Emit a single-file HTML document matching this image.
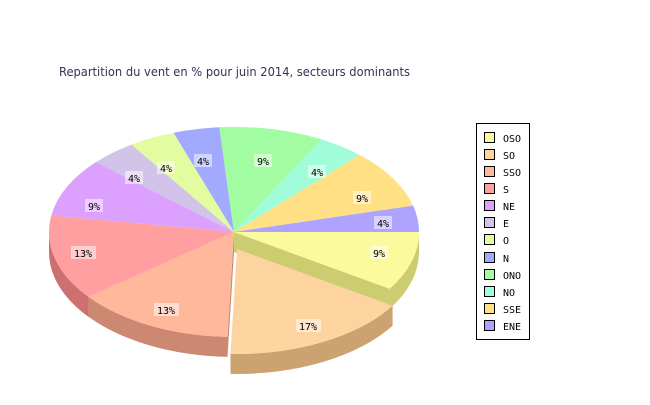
<!DOCTYPE html>
<html><head><meta charset="utf-8"><style>
body{margin:0;background:#fff;width:650px;height:400px;overflow:hidden}
</style></head><body>
<svg width="650" height="400" xmlns="http://www.w3.org/2000/svg">
<text x="59" y="76" font-family="DejaVu Sans, Liberation Sans, sans-serif" font-size="12" textLength="351" lengthAdjust="spacingAndGlyphs" fill="#333355">Repartition du vent en % pour juin 2014, secteurs dominants</text>
<!-- walls -->
<path d="M419,232 A185,105 0 0 1 389.6,288.8 L389.6,308.8 A185,105 0 0 0 419,252 Z" fill="#cccc70"/>
<path d="M234,232 L389.6,288.8 L389.6,308.8 L234,252 Z" fill="#cccc70"/>
<path d="M227.5,336.9 A185,105 0 0 1 88.6,296.9 L88.6,316.9 A185,105 0 0 0 227.5,356.9 Z" fill="#cc8870"/>
<path d="M234,232 L227.5,336.9 L227.5,356.9 L234,252 Z" fill="#cc8870"/>
<path d="M88.6,296.9 A185,105 0 0 1 49,232 L49,252 A185,105 0 0 0 88.6,316.9 Z" fill="#cc7070"/>
<!-- tops -->
<path d="M234,232 L419,232 A185,105 0 0 1 389.6,288.8 Z" fill="#fbfb9e"/>
<path d="M234,232 L227.5,336.9 A185,105 0 0 1 88.6,296.9 Z" fill="#ffb89c"/>
<path d="M234,232 L88.6,296.9 A185,105 0 0 1 51.3,215.4 Z" fill="#ff9f9f"/>
<path d="M234,232 L51.3,215.4 A185,105 0 0 1 96.1,162 Z" fill="#dca0ff"/>
<path d="M234,232 L96.1,162 A185,105 0 0 1 131.5,144.6 Z" fill="#d2c3e8"/>
<path d="M234,232 L131.5,144.6 A185,105 0 0 1 173.5,132.8 Z" fill="#e3fca0"/>
<path d="M234,232 L173.5,132.8 A185,105 0 0 1 219.3,127.3 Z" fill="#a1aaff"/>
<path d="M234,232 L219.3,127.3 A185,105 0 0 1 321.4,139.4 Z" fill="#a2fca2"/>
<path d="M234,232 L321.4,139.4 A185,105 0 0 1 359.5,154.9 Z" fill="#a0fcd9"/>
<path d="M234,232 L359.5,154.9 A185,105 0 0 1 413.1,205.6 Z" fill="#ffe084"/>
<path d="M234,232 L413.1,205.6 A185,105 0 0 1 419,232 Z" fill="#aea4ff"/>
<!-- exploded SO -->
<path d="M392.6,305.8 A185,105 0 0 1 230.5,353.9 L230.5,373.9 A185,105 0 0 0 392.6,325.8 Z" fill="#cca270"/>
<path d="M237,249 L392.6,305.8 A185,105 0 0 1 230.5,353.9 Z" fill="#fdd3a0"/>
<!-- labels -->
<g font-family="DejaVu Sans Mono, Liberation Mono, monospace" font-size="10" text-anchor="middle" fill="#000">
<rect x="370" y="246" width="18" height="13" fill="#fff" fill-opacity="0.5"/><text x="379" y="257">9%</text>
<rect x="296" y="319" width="25" height="13" fill="#fff" fill-opacity="0.5"/><text x="308" y="330">17%</text>
<rect x="154" y="303" width="25" height="13" fill="#fff" fill-opacity="0.5"/><text x="166" y="314">13%</text>
<rect x="71" y="246" width="25" height="13" fill="#fff" fill-opacity="0.5"/><text x="83" y="257">13%</text>
<rect x="85" y="199" width="18" height="13" fill="#fff" fill-opacity="0.5"/><text x="94" y="210">9%</text>
<rect x="125" y="171" width="18" height="13" fill="#fff" fill-opacity="0.5"/><text x="134" y="182">4%</text>
<rect x="157" y="161" width="18" height="13" fill="#fff" fill-opacity="0.5"/><text x="166" y="172">4%</text>
<rect x="194" y="154" width="18" height="13" fill="#fff" fill-opacity="0.5"/><text x="203" y="165">4%</text>
<rect x="254" y="154" width="18" height="13" fill="#fff" fill-opacity="0.5"/><text x="263" y="165">9%</text>
<rect x="308" y="165" width="18" height="13" fill="#fff" fill-opacity="0.5"/><text x="317" y="176">4%</text>
<rect x="353" y="191" width="18" height="13" fill="#fff" fill-opacity="0.5"/><text x="362" y="202">9%</text>
<rect x="374" y="216" width="18" height="13" fill="#fff" fill-opacity="0.5"/><text x="383" y="227">4%</text>
</g>
<!-- legend -->
<rect x="476.5" y="123.5" width="53" height="216" fill="#fff" stroke="#000"/>
<g stroke="#000">
<rect x="484.5" y="132.5" width="10" height="10" fill="#fbfb9e"/>
<rect x="484.5" y="149.5" width="10" height="10" fill="#fdd3a0"/>
<rect x="484.5" y="166.5" width="10" height="10" fill="#ffb89c"/>
<rect x="484.5" y="183.5" width="10" height="10" fill="#ff9f9f"/>
<rect x="484.5" y="200.5" width="10" height="10" fill="#dca0ff"/>
<rect x="484.5" y="217.5" width="10" height="10" fill="#d2c3e8"/>
<rect x="484.5" y="234.5" width="10" height="10" fill="#e3fca0"/>
<rect x="484.5" y="252.5" width="10" height="10" fill="#a1aaff"/>
<rect x="484.5" y="269.5" width="10" height="10" fill="#a2fca2"/>
<rect x="484.5" y="286.5" width="10" height="10" fill="#a0fcd9"/>
<rect x="484.5" y="303.5" width="10" height="10" fill="#ffe084"/>
<rect x="484.5" y="320.5" width="10" height="10" fill="#aea4ff"/>
</g>
<g font-family="DejaVu Sans Mono, Liberation Mono, monospace" font-size="10" fill="#000">
<text x="503" y="142">OSO</text><text x="503" y="159">SO</text><text x="503" y="176">SSO</text>
<text x="503" y="193">S</text><text x="503" y="210">NE</text><text x="503" y="227">E</text>
<text x="503" y="244">O</text><text x="503" y="262">N</text><text x="503" y="279">ONO</text>
<text x="503" y="296">NO</text><text x="503" y="313">SSE</text><text x="503" y="330">ENE</text>
</g>
</svg>
</body></html>
